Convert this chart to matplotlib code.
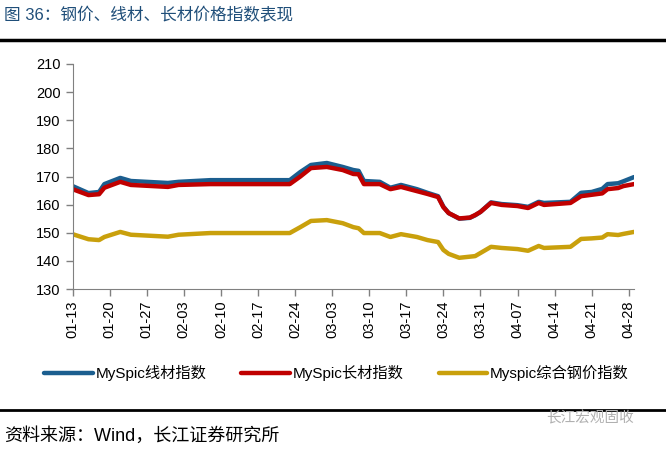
import numpy as np
import pandas as pd
import matplotlib
matplotlib.use("Agg")
from matplotlib import pyplot as plt

plt.rcParams['font.family'] = ['Liberation Sans', 'Noto Sans CJK SC']

# 数据（从图中读取，2021年）
dates = ["01-13", "01-16", "01-18", "01-19", "01-22", "01-24", "01-31", "02-02",
         "02-08", "02-23", "02-25", "02-27", "03-02", "03-05", "03-07", "03-08",
         "03-09", "03-12", "03-14", "03-16", "03-19", "03-21", "03-23", "03-24",
         "03-25", "03-27", "03-29", "03-30", "03-31", "04-02", "04-04", "04-07",
         "04-09", "04-11", "04-12", "04-17", "04-19", "04-21", "04-23", "04-24",
         "04-26", "04-27", "04-29"]
wire = [166.6, 164.1, 164.5, 167.3, 169.5, 168.4, 167.7, 168.1,
        168.7, 168.7, 171.6, 174.1, 174.8, 173.4, 172.3, 172.0,
        168.4, 168.1, 166.0, 167.0, 165.5, 164.2, 163.0, 159.3,
        157.0, 155.0, 155.3, 156.2, 157.4, 160.8, 160.2, 159.8,
        159.2, 161.0, 160.6, 161.0, 164.2, 164.5, 165.6, 167.3,
        167.6, 168.3, 169.8]
long_ = [165.5, 163.4, 163.7, 166.0, 168.1, 167.0, 166.3, 167.0,
         167.3, 167.3, 170.0, 173.0, 173.4, 172.3, 170.9, 170.8,
         167.3, 167.3, 165.5, 166.3, 164.8, 163.8, 162.7, 159.1,
         157.0, 155.1, 155.4, 156.3, 157.4, 160.6, 159.9, 159.5,
         158.8, 160.6, 159.9, 160.6, 163.0, 163.5, 164.0, 165.5,
         165.9, 166.6, 167.3]
steel = [149.5, 147.7, 147.4, 148.5, 150.3, 149.3, 148.6, 149.3,
         149.9, 149.9, 152.0, 154.2, 154.5, 153.4, 152.0, 151.6,
         149.9, 149.9, 148.5, 149.5, 148.5, 147.4, 146.7, 143.9,
         142.5, 141.1, 141.5, 141.7, 142.8, 145.0, 144.6, 144.2,
         143.6, 145.3, 144.6, 145.0, 147.8, 148.0, 148.3, 149.5,
         149.2, 149.6, 150.3]
tick_labels = ["01-13", "01-20", "01-27", "02-03", "02-10", "02-17", "02-24", "03-03",
               "03-10", "03-17", "03-24", "03-31", "04-07", "04-14", "04-21", "04-28"]

x = pd.to_datetime(["2021-" + d for d in dates])
ticks = pd.to_datetime(["2021-" + d for d in tick_labels])

fig = plt.figure(figsize=(6.66, 4.49), dpi=100)
ax = fig.add_axes([0.109, 0.3563, 0.843, 0.5012])

ax.plot(x, wire, color='#1B5E8F', lw=3.2, solid_capstyle='round', label='MySpic线材指数')
ax.plot(x, long_, color='#C00000', lw=3.2, solid_capstyle='round', label='MySpic长材指数')
ax.plot(x, steel, color='#C9A00C', lw=3.2, solid_capstyle='round', label='Myspic综合钢价指数')

ax.set_ylim(130, 210)
ax.set_yticks(np.arange(130, 211, 10))
ax.set_xlim(pd.Timestamp("2021-01-13"), pd.Timestamp("2021-04-29"))
ax.set_xticks(ticks)
ax.set_xticklabels(tick_labels, rotation=90)
ax.tick_params(axis='both', labelsize=10.5, color='#808080', length=5, width=1)
ax.tick_params(axis='x', pad=3)
for s in ['top', 'right']:
    ax.spines[s].set_visible(False)
for s in ['left', 'bottom']:
    ax.spines[s].set_color('#808080')

fig.legend(loc='center', bbox_to_anchor=(0.505, 0.169), ncol=3, frameon=False,
           fontsize=11, handlelength=3.2, handletextpad=0.15, columnspacing=2.3)

# 标题、分隔线、来源
fig.text(0.006, 0.965, '图 36：钢价、线材、长材价格指数表现', fontsize=12,
         color='#1F4E79', va='center', ha='left')
fig.add_artist(plt.Line2D([0, 1], [0.912, 0.912], color='black', lw=2.5))
fig.add_artist(plt.Line2D([0, 1], [0.087, 0.087], color='black', lw=2))
fig.text(0.006, 0.03, '资料来源：Wind，长江证券研究所', fontsize=13, va='center', ha='left')
fig.text(0.82, 0.068, '长江宏观固收', fontsize=10.5, color='#B0B0B0', va='center', ha='left')

fig.savefig('out.png', dpi=100)
